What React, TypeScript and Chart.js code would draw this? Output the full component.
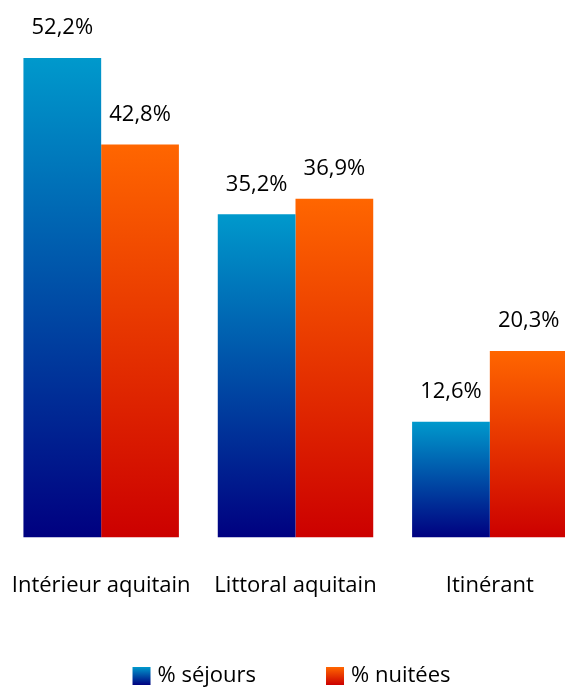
import React, { useEffect, useRef } from 'react';
import { Chart, registerables } from 'chart.js';

Chart.register(...registerables);

const categories = ['Intérieur aquitain', 'Littoral aquitain', 'Itinérant'];
const sejours = [52.2, 35.2, 12.6];
const nuitees = [42.8, 36.9, 20.3];
const seriesLabels = ['% séjours', '% nuitées'];
const yMax = 57;

const BLUE_TOP = '#0099cc';
const BLUE_BOTTOM = '#000080';
const ORANGE_TOP = '#ff6600';
const ORANGE_BOTTOM = '#cc0000';
const FONT = '"Open Sans", Lato, "DejaVu Sans", sans-serif';
const TEXT = '#000000';
const SIZE = 22;

function barGradient(top: string, bottom: string) {
  return (ctx: any) => {
    const chart = ctx.chart;
    if (!chart.chartArea || ctx.type !== 'data') return top;
    const ys = chart.scales.y;
    const y0 = ys.getPixelForValue(0);
    const y1 = ys.getPixelForValue(ctx.raw);
    const g = chart.ctx.createLinearGradient(0, y1, 0, y0);
    g.addColorStop(0, top);
    g.addColorStop(1, bottom);
    return g;
  };
}

const valueLabels = {
  id: 'valueLabels',
  afterDatasetsDraw(chart: any) {
    const c = chart.ctx;
    c.save();
    c.font = `${SIZE}px ${FONT}`;
    c.fillStyle = TEXT;
    c.textAlign = 'center';
    c.textBaseline = 'middle';
    chart.data.datasets.forEach((ds: any, di: number) => {
      const meta = chart.getDatasetMeta(di);
      meta.data.forEach((bar: any, i: number) => {
        const v = ds.data[i] as number;
        c.fillText(v.toFixed(1).replace('.', ',') + '%', bar.x, bar.y - 30);
      });
    });
    c.restore();
  },
};

const bottomLegend = {
  id: 'bottomLegend',
  afterDraw(chart: any) {
    const c = chart.ctx;
    c.save();
    c.font = `${SIZE}px ${FONT}`;
    const box = 18;
    const gap = 7;
    const itemGap = 70;
    const items = chart.data.datasets.map((ds: any) => ({
      label: ds.label,
      top: ds.gradTop,
      bottom: ds.gradBottom,
      w: box + gap + c.measureText(ds.label).width,
    }));
    const total = items.reduce((s: number, it: any) => s + it.w, 0) + itemGap * (items.length - 1);
    const center = (chart.chartArea.left + chart.chartArea.right) / 2 - 4;
    let x = center - total / 2;
    const yc = 676;
    items.forEach((it: any) => {
      const g = c.createLinearGradient(0, yc - box / 2, 0, yc + box / 2);
      g.addColorStop(0, it.top);
      g.addColorStop(1, it.bottom);
      c.fillStyle = g;
      c.fillRect(x, yc - box / 2, box, box);
      c.fillStyle = TEXT;
      c.textAlign = 'left';
      c.textBaseline = 'middle';
      c.fillText(it.label, x + box + gap, yc);
      x += it.w + itemGap;
    });
    c.restore();
  },
};

export default function App() {
  const ref = useRef<HTMLCanvasElement>(null);
  useEffect(() => {
    if (!ref.current) return;
    const chart = new Chart(ref.current, {
      type: 'bar',
      data: {
        labels: categories,
        datasets: [
          {
            label: seriesLabels[0],
            data: sejours,
            backgroundColor: barGradient(BLUE_TOP, BLUE_BOTTOM),
            gradTop: BLUE_TOP,
            gradBottom: BLUE_BOTTOM,
            categoryPercentage: 0.8,
            barPercentage: 1.0,
            borderWidth: 0,
          } as any,
          {
            label: seriesLabels[1],
            data: nuitees,
            backgroundColor: barGradient(ORANGE_TOP, ORANGE_BOTTOM),
            gradTop: ORANGE_TOP,
            gradBottom: ORANGE_BOTTOM,
            categoryPercentage: 0.8,
            barPercentage: 1.0,
            borderWidth: 0,
          } as any,
        ],
      },
      options: {
        responsive: false,
        animation: false,
        devicePixelRatio: 1,
        layout: { padding: { left: 4, right: 4, top: 14, bottom: 86 } },
        plugins: {
          legend: { display: false },
          tooltip: { enabled: false },
        },
        scales: {
          x: {
            grid: {
              display: true,
              drawOnChartArea: false,
              drawTicks: true,
              tickLength: 32,
              color: 'rgba(0,0,0,0)',
            },
            border: { display: false },
            ticks: {
              color: TEXT,
              font: { family: FONT, size: SIZE },
              padding: 3,
              maxRotation: 0,
              autoSkip: false,
            },
          },
          y: {
            display: false,
            min: 0,
            max: yMax,
          },
        },
      },
      plugins: [valueLabels, bottomLegend],
    });
    return () => chart.destroy();
  }, []);
  return (
    <div style={{ position: 'fixed', left: 0, top: 0, width: 565, height: 688, overflow: 'hidden', background: '#fff' }}>
      <canvas ref={ref} width={591} height={688} style={{ width: 591, height: 688, display: 'block' }} />
    </div>
  );
}
